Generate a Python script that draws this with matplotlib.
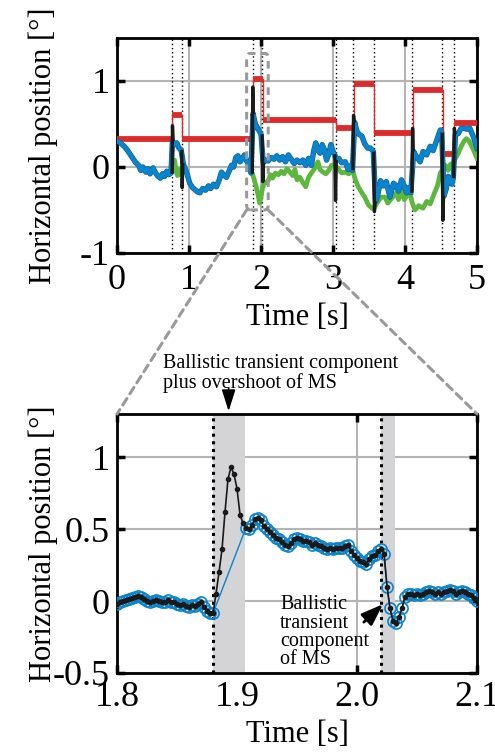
import numpy as np
import matplotlib.pyplot as plt
from matplotlib.patches import FancyBboxPatch, ConnectionPatch
import matplotlib.patheffects as pe

plt.rcParams['font.family'] = 'Liberation Serif'
plt.rcParams['axes.linewidth'] = 2
plt.rcParams['axes.unicode_minus'] = False

# ---- top panel: 5 s of eye position ----
target_t = [0, 0.77, 0.905, 1.885, 2.025, 3.035, 3.285, 3.575, 4.105, 4.525, 4.685, 5.0]
target_y = [0.33, 0.60, 0.33, 1.02, 0.55, 0.45, 0.97, 0.40, 0.89, 0.15, 0.51]

ms_onsets = [0.77, 0.905, 1.885, 2.02, 3.035, 3.28, 3.57, 4.10, 4.52, 4.68]

eye_t = [0.00, 0.03, 0.06, 0.10, 0.14, 0.18, 0.22, 0.26, 0.30, 0.33, 0.36, 0.40, 0.43,
         0.46, 0.50, 0.53, 0.56, 0.60, 0.63, 0.66, 0.69, 0.72, 0.75,
         0.77, 0.80, 0.83, 0.86, 0.89,
         0.92, 0.95, 0.98, 1.01, 1.05, 1.09, 1.12, 1.15, 1.19, 1.23, 1.27, 1.30, 1.34,
         1.38, 1.42, 1.45, 1.49, 1.52, 1.56, 1.59, 1.62, 1.65, 1.68, 1.71, 1.74, 1.77,
         1.80, 1.83, 1.86,
         1.89, 1.92, 1.96, 2.00,
         2.03, 2.06, 2.10, 2.14, 2.18, 2.22, 2.26, 2.30, 2.34, 2.38, 2.42, 2.46, 2.50,
         2.54, 2.58, 2.62, 2.66, 2.70, 2.73, 2.76, 2.79, 2.82, 2.85, 2.88, 2.91, 2.94,
         2.97, 3.00, 3.02,
         3.05, 3.08, 3.12, 3.17, 3.21, 3.25, 3.27,
         3.30, 3.33, 3.36, 3.40, 3.44, 3.48, 3.52, 3.56,
         3.59, 3.62, 3.66, 3.70, 3.74, 3.79, 3.84, 3.88, 3.91, 3.95, 3.99, 4.02, 4.05, 4.08,
         4.12, 4.16, 4.21, 4.25, 4.30, 4.35, 4.39, 4.44, 4.49, 4.51,
         4.54, 4.57, 4.60, 4.65, 4.67,
         4.70, 4.74, 4.78, 4.81, 4.86, 4.90, 4.95, 5.00]
eye_y = [0.30, 0.29, 0.27, 0.24, 0.20, 0.15, 0.10, 0.05, 0.02, -0.04, 0.00, -0.06, -0.02,
         -0.08, -0.01, -0.06, -0.10, -0.13, -0.08, -0.11, -0.05, -0.09, -0.07,
         0.30, 0.26, 0.28, 0.22, 0.20,
         0.04, -0.03, -0.10, -0.19, -0.24, -0.27, -0.29, -0.30, -0.25, -0.27, -0.22, -0.25, -0.20,
         -0.23, -0.15, -0.06, -0.10, -0.12, -0.04, 0.02, 0.00, 0.11, 0.13, 0.06, 0.10, 0.14,
         0.07, 0.02, -0.07,
         0.62, 0.50, 0.44, 0.38,
         0.05, 0.08, 0.07, 0.11, 0.09, 0.13, 0.08, 0.12, 0.06, 0.14, 0.09, 0.04, 0.08,
         0.05, 0.08, 0.02, 0.10, 0.02, 0.18, 0.28, 0.20, 0.16, 0.26, 0.20, 0.08, 0.15,
         0.26, 0.18, 0.15,
         0.08, 0.10, 0.05, 0.06, -0.03, 0.02, -0.04,
         0.52, 0.42, 0.38, 0.36, 0.27, 0.22, 0.22, 0.18,
         -0.40, -0.33, -0.16, -0.22, -0.17, -0.35, -0.19, -0.22, -0.28, -0.15, -0.22, -0.30, -0.24, -0.30,
         0.18, 0.12, 0.06, 0.18, 0.14, 0.24, 0.19, 0.31, 0.43, 0.40,
         -0.34, -0.26, -0.11, -0.20, -0.13,
         0.38, 0.39, 0.45, 0.45, 0.44, 0.45, 0.35, 0.22]

drift1_t = [0.78, 0.80, 0.82, 0.84, 0.86, 0.88]
drift1_y = [0.05, 0.08, -0.05, -0.10, -0.03, -0.08]
drift2_t = [1.88, 1.90, 1.93, 1.96, 1.98, 2.00, 2.02, 2.04, 2.07, 2.10, 2.13, 2.16, 2.20,
            2.24, 2.28, 2.32, 2.36, 2.40, 2.44, 2.47, 2.50, 2.54, 2.58, 2.62, 2.66, 2.70,
            2.75, 2.79, 2.82, 2.86, 2.90, 2.94, 2.98, 3.03, 3.08, 3.12, 3.17, 3.22, 3.27,
            3.31, 3.35, 3.40, 3.44, 3.49, 3.54, 3.57, 3.61, 3.67, 3.72, 3.76, 3.82, 3.88,
            3.91, 3.95, 3.99, 4.03, 4.06, 4.10, 4.14, 4.19, 4.25, 4.30, 4.35, 4.41, 4.45,
            4.49, 4.53, 4.56, 4.60, 4.63, 4.67, 4.70, 4.74, 4.78, 4.82, 4.85, 4.89, 4.92,
            4.96, 5.00]
drift2_y = [-0.08, -0.13, -0.22, -0.33, -0.42, -0.35, -0.25, -0.20, -0.18, -0.16, -0.09, -0.13, -0.07,
            -0.09, -0.05, -0.08, -0.02, -0.06, -0.10, -0.03, -0.15, -0.12, -0.18, -0.23, -0.12, -0.07,
            -0.01, 0.06, -0.03, -0.06, -0.08, -0.04, 0.02, 0.02, -0.03, -0.07, -0.06, -0.08, -0.03,
            -0.15, -0.23, -0.30, -0.35, -0.44, -0.48, -0.48, -0.42, -0.35, -0.35, -0.42, -0.36, -0.30,
            -0.38, -0.27, -0.38, -0.33, -0.27, -0.42, -0.50, -0.45, -0.48, -0.40, -0.43, -0.30, -0.22,
            -0.07, -0.02, 0.02, -0.04, 0.03, 0.05, 0.10, 0.16, 0.24, 0.30, 0.33, 0.30, 0.25,
            0.18, 0.10]

# saccades: (start, extreme, end)
sac_t = [[0.765, 0.770, 0.780], [0.898, 0.905, 0.915], [1.878, 1.885, 1.895],
         [2.015, 2.025, 2.035], [3.025, 3.035, 3.045], [3.275, 3.285, 3.295],
         [3.565, 3.575, 3.585], [4.095, 4.105, 4.115], [4.515, 4.525, 4.535],
         [4.675, 4.685, 4.695]]
sac_y = [[-0.08, 0.48, 0.30], [0.20, -0.24, 0.04], [-0.08, 0.93, 0.62],
         [0.38, -0.17, 0.05], [0.15, -0.39, 0.08], [-0.04, 0.60, 0.52],
         [0.18, -0.52, -0.40], [-0.30, 0.45, 0.18], [0.40, -0.62, -0.34],
         [-0.13, 0.45, 0.38]]

# ---- bottom panel: zoom 1.8-2.1 s, 2.5 ms samples ----
zoom_t = np.linspace(1.8, 2.1, 121)
zoom_y = [-0.02, -0.01, 0.00, 0.01, 0.015, 0.02, 0.03, 0.035, 0.03, 0.015, 0.00,
          -0.01, 0.00, 0.01, 0.00, -0.01, -0.005, 0.005, -0.01, -0.005, -0.02,
          -0.025, -0.02, -0.035, -0.04, -0.03, -0.035, -0.02, -0.01, -0.04, -0.07,
          -0.085, -0.085,
          0.05, 0.20, 0.36, 0.62, 0.85, 0.93, 0.88, 0.78, 0.60, 0.54,
          0.51, 0.50, 0.53, 0.57, 0.58, 0.56, 0.52, 0.50, 0.48, 0.46, 0.44, 0.43,
          0.41, 0.39, 0.38, 0.40, 0.43, 0.44, 0.43, 0.42, 0.42, 0.41, 0.39, 0.40,
          0.39, 0.38, 0.37, 0.36, 0.37, 0.36, 0.37, 0.37, 0.37, 0.38, 0.39, 0.35,
          0.32, 0.30, 0.28, 0.27, 0.26, 0.29, 0.31, 0.32, 0.35, 0.36, 0.33,
          0.10, -0.05, -0.14, -0.15, -0.11, -0.05, 0.03, 0.05, 0.05, 0.04, 0.05,
          0.04, 0.05, 0.06, 0.07, 0.06, 0.05, 0.06, 0.05, 0.06, 0.07, 0.08, 0.07,
          0.05, 0.06, 0.07, 0.06, 0.05, 0.04, 0.02, 0.00]
transient = [(1.88, 1.907), (2.02, 2.032)]
drift_mask = np.ones(121, dtype=bool)
drift_mask[33:43] = False

blue = '#0a84cc'
green = '#5cb83c'
red = '#dd2a2a'
grid_c = '#b4b4b4'

fig = plt.figure(figsize=(4.95, 7.52), dpi=100)
ax1 = fig.add_axes([0.2364, 0.6636, 0.7273, 0.2859])
ax2 = fig.add_axes([0.2364, 0.1051, 0.7273, 0.3444])

# top
for t0 in ms_onsets:
    ax1.axvline(t0, color='k', lw=1, ls=(0, (1, 2)), zorder=2)
ax1.step(target_t, target_y + [target_y[-1]], where='post', color=red, lw=1, zorder=3)
ax1.hlines(target_y, target_t[:-1], target_t[1:], color=red, lw=4.2, zorder=3)
ax1.plot(drift1_t, drift1_y, color=green, lw=3.4, zorder=4)
ax1.plot(drift2_t, drift2_y, color=green, lw=3.4, zorder=4)
ax1.plot(eye_t, eye_y, color=blue, lw=3.0, zorder=5,
         path_effects=[pe.Stroke(linewidth=3.9, foreground='#0b5f95'), pe.Normal()])
for st, sy in zip(sac_t, sac_y):
    ax1.plot(st, sy, color='#1a1a1a', lw=2.4, zorder=6, solid_capstyle='butt')

ax1.set_xlim(0, 5)
ax1.set_ylim(-1, 1.5)
ax1.set_xticks([0, 1, 2, 3, 4, 5])
ax1.set_yticks([-1, 0, 1])
ax1.set_xlabel('Time [s]', fontsize=22, labelpad=4)
ax1.set_ylabel('Horizontal position [°]', fontsize=22)
ax1.yaxis.set_label_coords(-0.165, 0.5)

box = FancyBboxPatch((1.8, -0.5), 0.3, 1.82, boxstyle='round,pad=0,rounding_size=0.05',
                     mutation_aspect=1.2, fill=False, ec='#999999', lw=2.2,
                     ls=(0, (2.5, 1.8)), zorder=7, clip_on=False)
ax1.add_patch(box)

# bottom
for a, b in transient:
    ax2.axvspan(a, b, color='#d4d4d6', lw=0, zorder=1)
    ax2.axvline(a, color='k', lw=2.2, ls=(0, (1, 1.5)), zorder=2)
ax2.plot(zoom_t[drift_mask], np.array(zoom_y)[drift_mask], color=blue, lw=1,
         marker='o', ms=8, mfc='none', mec=blue, mew=1.2, zorder=3)
ax2.plot(zoom_t, zoom_y, color='#1a1a1a', lw=1.2, marker='o', ms=3, zorder=4)
ax2.set_xlim(1.8, 2.1)
ax2.set_ylim(-0.5, 1.3)
ax2.set_xticks([1.8, 1.9, 2.0, 2.1])
ax2.set_xticklabels(['1.8', '1.9', '2.0', '2.1'])
ax2.set_yticks([-0.5, 0, 0.5, 1])
ax2.set_yticklabels(['-0.5', '0', '0.5', '1'])
ax2.set_xlabel('Time [s]', fontsize=22, labelpad=4)
ax2.set_ylabel('Horizontal position [°]', fontsize=22)
ax2.yaxis.set_label_coords(-0.165, 0.5)

for ax in (ax1, ax2):
    ax.grid(True, color=grid_c, lw=1.5, zorder=0)
    ax.set_axisbelow(True)
    ax.tick_params(direction='in', length=6, width=2.5, top=True, right=True,
                   labelsize=26, pad=5)
ax1.tick_params(axis='x', pad=8)
ax2.tick_params(axis='x', pad=6)

ax2.annotate('', xy=(1.893, 1.3), xytext=(1.893, 1.50), annotation_clip=False,
             arrowprops=dict(arrowstyle='-|>,head_width=0.35,head_length=1.1',
                             color='k', lw=1.2, mutation_scale=12))
ax2.text(1.838, 1.72, 'Ballistic transient component\nplus overshoot of MS',
         fontsize=14.5, ha='left', va='top', linespacing=1.05, clip_on=False)
ax2.annotate('', xy=(2.0233, -0.009), xytext=(2.004, -0.16),
             arrowprops=dict(arrowstyle='-|>,head_width=0.4,head_length=1.1',
                             color='k', lw=2, mutation_scale=12))
ax2.text(1.936, 0.04, 'Ballistic\ntransient\ncomponent\nof MS', fontsize=14.5,
         ha='left', va='top', linespacing=0.95)

for xa, xb in [((1.8, -0.5), (0, 1)), ((2.1, -0.5), (1, 1))]:
    con = ConnectionPatch(xyA=xa, coordsA=ax1.transData, xyB=xb, coordsB=ax2.transAxes,
                          color='#999999', lw=2.2, ls=(0, (2.5, 1.8)))
    fig.add_artist(con)

fig.savefig('out.png', dpi=100)
